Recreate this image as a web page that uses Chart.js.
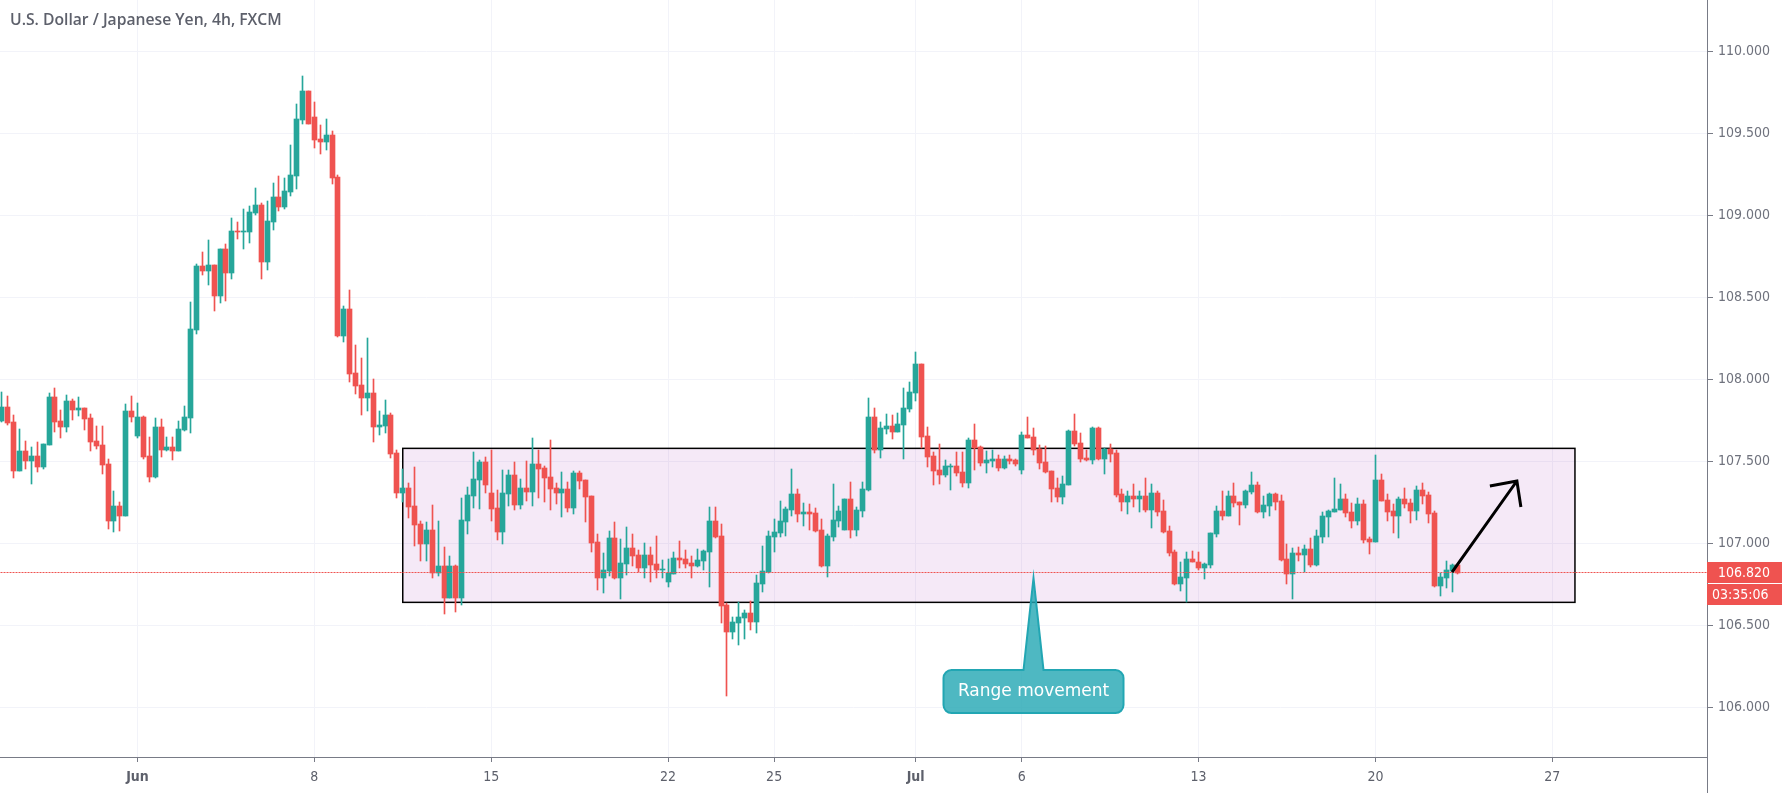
<!DOCTYPE html>
<html>
<head>
<meta charset="utf-8">
<title>USD/JPY 4h</title>
<style>
  html, body { margin: 0; padding: 0; background: #fff; overflow: hidden; }
  canvas { display: block; }
</style>
<script src="https://cdn.jsdelivr.net/npm/chart.js@4"></script>
</head>
<body>
<canvas id="myChart" width="1787" height="793"></canvas>
<script>
const chartTitle = 'U.S. Dollar / Japanese Yen, 4h, FXCM';

// 4h candles
const opens = [
  107.746,107.831,107.740,107.441,107.563,107.502,107.533,107.465,107.600,107.892,
  107.746,107.709,107.868,107.813,107.825,107.764,107.624,107.600,107.484,107.136,
  107.228,107.167,107.807,107.654,107.770,107.533,107.404,107.709,107.569,107.587,
  107.563,107.691,107.764,108.301,108.691,108.661,108.697,108.508,108.795,108.648,
  108.904,108.898,108.898,109.014,109.063,108.715,108.959,109.112,109.051,109.142,
  109.240,109.581,109.758,109.600,109.465,109.447,109.490,109.234,108.264,108.429,
  108.039,107.965,107.886,107.917,107.709,107.715,107.783,107.551,107.307,107.337,
  107.228,107.118,106.996,107.081,106.819,106.862,106.667,106.862,106.667,107.136,
  107.289,107.386,107.496,107.307,107.215,107.069,107.301,107.417,107.234,107.337,
  107.313,107.484,107.459,107.404,107.337,107.307,107.331,107.215,107.429,107.386,
  107.289,107.008,106.789,106.831,107.033,106.789,106.874,106.972,106.929,106.850,
  106.929,106.874,106.837,106.764,106.813,106.911,106.904,106.880,106.862,106.892,
  106.947,107.136,107.045,106.624,106.459,106.514,106.545,106.575,106.520,106.752,
  106.825,107.039,107.063,107.130,107.203,107.301,107.179,107.191,107.185,107.081,
  106.862,107.039,107.136,107.081,107.270,107.081,107.197,107.325,107.770,107.569,
  107.697,107.715,107.679,107.722,107.819,107.917,108.093,107.654,107.533,107.447,
  107.417,107.465,107.472,107.435,107.368,107.630,107.587,107.490,107.502,107.514,
  107.459,107.514,107.508,107.447,107.661,107.648,107.575,107.496,107.441,107.337,
  107.283,107.356,107.685,107.612,107.520,107.508,107.703,107.514,107.575,107.551,
  107.301,107.252,107.289,107.270,107.289,107.203,107.307,107.197,107.075,106.947,
  106.752,106.789,106.904,106.886,106.850,106.868,107.057,107.197,107.167,107.289,
  107.252,107.234,107.313,107.356,107.191,107.228,107.301,107.258,106.904,106.813,
  106.941,106.929,106.965,106.868,107.039,107.161,107.191,107.203,107.270,107.191,
  107.136,107.240,107.026,107.008,107.386,107.264,107.197,107.167,107.270,107.246,
  107.197,107.325,107.295,107.185,106.740,106.789,106.831,106.868
];
const highs = [
  107.923,107.898,107.783,107.697,107.624,107.587,107.618,107.606,107.917,107.947,
  107.813,107.904,107.880,107.892,107.825,107.789,107.715,107.715,107.514,107.319,
  107.252,107.850,107.898,107.856,107.776,107.648,107.764,107.758,107.648,107.648,
  107.746,107.837,108.472,108.703,108.776,108.850,108.697,108.795,108.825,108.984,
  108.959,109.039,109.057,109.167,109.075,109.087,109.197,109.240,109.228,109.429,
  109.679,109.850,109.758,109.691,109.551,109.587,109.514,109.246,108.447,108.545,
  108.209,108.130,108.252,108.002,107.807,107.874,107.795,107.569,107.453,107.368,
  107.465,107.136,107.130,107.234,107.136,106.978,106.923,106.868,107.276,107.343,
  107.557,107.508,107.526,107.569,107.325,107.447,107.447,107.496,107.392,107.502,
  107.642,107.569,107.472,107.630,107.368,107.435,107.374,107.441,107.441,107.386,
  107.289,107.057,106.941,107.075,107.130,107.026,107.100,107.057,106.959,107.002,
  106.978,107.045,106.898,106.904,106.947,107.014,106.959,106.923,106.965,106.959,
  107.222,107.222,107.118,106.636,106.551,106.642,106.593,106.648,106.807,106.984,
  107.075,107.148,107.258,107.222,107.453,107.331,107.246,107.240,107.215,107.148,
  107.057,107.362,107.228,107.270,107.374,107.222,107.374,107.886,107.825,107.740,
  107.789,107.783,107.795,107.947,107.984,108.167,108.093,107.709,107.557,107.606,
  107.508,107.484,107.557,107.557,107.642,107.728,107.593,107.563,107.569,107.539,
  107.533,107.539,107.514,107.679,107.770,107.703,107.600,107.593,107.441,107.398,
  107.411,107.691,107.789,107.673,107.569,107.709,107.709,107.581,107.606,107.569,
  107.331,107.319,107.362,107.319,107.398,107.362,107.319,107.264,107.106,106.959,
  106.886,106.947,106.953,106.947,106.880,107.063,107.228,107.319,107.319,107.368,
  107.252,107.325,107.435,107.374,107.289,107.307,107.307,107.295,106.996,106.972,
  106.978,106.990,107.033,107.081,107.191,107.203,107.398,107.362,107.301,107.246,
  107.276,107.264,107.039,107.539,107.423,107.301,107.240,107.283,107.337,107.270,
  107.350,107.368,107.313,107.197,106.819,106.892,106.874,106.868
];
const lows = [
  107.740,107.722,107.398,107.441,107.453,107.362,107.435,107.453,107.600,107.679,
  107.642,107.679,107.752,107.776,107.691,107.563,107.575,107.423,107.087,107.069,
  107.075,107.167,107.740,107.642,107.514,107.374,107.398,107.526,107.563,107.508,
  107.563,107.685,107.673,108.276,108.636,108.575,108.417,108.465,108.478,108.612,
  108.856,108.795,108.831,109.002,108.612,108.667,108.911,109.026,109.039,109.118,
  109.161,109.557,109.557,109.411,109.374,109.398,109.191,108.258,108.228,107.984,
  107.911,107.783,107.807,107.618,107.661,107.673,107.520,107.276,107.252,107.154,
  106.984,106.892,106.892,106.789,106.801,106.569,106.667,106.581,106.624,107.057,
  107.215,107.209,107.307,107.136,107.020,106.996,107.228,107.203,107.209,107.258,
  107.228,107.276,107.252,107.203,107.240,107.161,107.191,107.179,107.331,107.130,
  106.947,106.715,106.697,106.801,106.783,106.661,106.807,106.862,106.825,106.789,
  106.764,106.789,106.789,106.734,106.813,106.850,106.850,106.789,106.856,106.837,
  106.734,107.033,106.514,106.069,106.417,106.380,106.417,106.472,106.453,106.703,
  106.819,106.947,107.039,107.045,107.167,107.130,107.106,107.081,107.069,106.856,
  106.795,107.014,107.100,107.081,107.033,107.045,107.161,107.319,107.551,107.520,
  107.667,107.636,107.679,107.514,107.801,107.868,107.581,107.465,107.356,107.362,
  107.404,107.325,107.411,107.343,107.337,107.447,107.472,107.429,107.465,107.441,
  107.453,107.484,107.472,107.423,107.642,107.539,107.453,107.429,107.252,107.252,
  107.240,107.356,107.593,107.496,107.502,107.484,107.508,107.423,107.496,107.283,
  107.197,107.179,107.222,107.191,107.191,107.094,107.167,107.063,106.923,106.746,
  106.709,106.642,106.886,106.837,106.783,106.850,107.039,107.142,107.167,107.222,
  107.112,107.215,107.301,107.185,107.154,107.167,107.203,106.892,106.752,106.661,
  106.892,106.825,106.856,106.862,107.002,107.039,107.191,107.203,107.161,107.093,
  107.112,107.002,106.935,107.008,107.258,107.136,107.063,107.033,107.215,107.124,
  107.142,107.240,107.124,106.734,106.679,106.728,106.703,106.813
];
const closes = [
  107.831,107.734,107.441,107.563,107.502,107.533,107.465,107.606,107.892,107.740,
  107.709,107.868,107.813,107.825,107.758,107.618,107.593,107.478,107.136,107.228,
  107.167,107.807,107.770,107.770,107.526,107.404,107.709,107.569,107.587,107.563,
  107.697,107.770,108.307,108.691,108.661,108.697,108.508,108.795,108.648,108.904,
  108.898,108.904,109.020,109.063,108.715,108.965,109.112,109.051,109.148,109.246,
  109.587,109.758,109.557,109.459,109.447,109.490,109.228,108.264,108.429,108.033,
  107.959,107.886,107.917,107.709,107.722,107.783,107.545,107.307,107.337,107.222,
  107.112,106.996,107.081,106.819,106.862,106.667,106.862,106.667,107.142,107.295,
  107.392,107.496,107.356,107.209,107.069,107.307,107.417,107.234,107.337,107.313,
  107.484,107.453,107.398,107.331,107.307,107.331,107.215,107.429,107.380,107.283,
  107.002,106.789,106.837,107.033,106.789,106.880,106.972,106.923,106.850,106.929,
  106.868,106.837,106.843,106.819,106.911,106.898,106.874,106.862,106.898,106.953,
  107.136,107.039,106.618,106.459,106.520,106.551,106.575,106.520,106.758,106.831,
  107.045,107.069,107.136,107.209,107.301,107.179,107.191,107.179,107.075,106.862,
  107.045,107.142,107.197,107.270,107.081,107.203,107.331,107.770,107.569,107.703,
  107.715,107.679,107.728,107.825,107.923,108.093,107.648,107.526,107.441,107.417,
  107.472,107.472,107.429,107.368,107.630,107.581,107.490,107.508,107.514,107.459,
  107.514,107.502,107.484,107.661,107.642,107.569,107.490,107.435,107.331,107.283,
  107.362,107.685,107.606,107.514,107.508,107.703,107.514,107.575,107.545,107.295,
  107.252,107.289,107.270,107.289,107.203,107.307,107.191,107.069,106.941,106.752,
  106.795,106.904,106.886,106.850,106.874,107.063,107.197,107.167,107.289,107.246,
  107.234,107.319,107.356,107.191,107.234,107.301,107.252,106.898,106.813,106.941,
  106.929,106.965,106.868,107.045,107.167,107.197,107.209,107.270,107.185,107.136,
  107.240,107.020,107.008,107.386,107.258,107.191,107.167,107.270,107.240,107.197,
  107.325,107.289,107.179,106.740,106.795,106.837,106.868,106.820
];

const priceTicks = [106, 106.5, 107, 107.5, 108, 108.5, 109, 109.5, 110];
const timeTickIndexes = [23, 53, 83, 113, 131, 155, 173, 203, 233, 263];
const timeTickLabels = ['Jun', '8', '15', '22', '25', 'Jul', '6', '13', '20', '27'];
const monthLabels = ['Jun', 'Jul'];

const lastPrice = 106.82;
const countdown = '03:35:06';

// drawings on the chart, in bar index / price
const rangeBox = { from: 68, to: 266.85, top: 107.579, bottom: 106.64 };
const arrowLine = { fromIndex: 246, fromPrice: 106.825, toIndex: 257, toPrice: 107.38 };
const calloutTip = { index: 175, price: 106.788 };
const calloutText = 'Range movement';

const UP = '#26a69a';
const DOWN = '#ef5350';
const GRID = '#f2f3f9';
const AXIS = '#787b86';
const TEXT = '#5d606b';
const AXIS_FONT = '"DejaVu Sans Condensed", "DejaVu Sans", sans-serif';

const xMin = -0.322;
const xMax = 289.25;

function candleColor(i) {
  return closes[i] >= opens[i] ? UP : DOWN;
}

// the scales keep room for their first and last label, not wanted here
function noScalePadding(axis) {
  axis.paddingTop = 0;
  axis.paddingBottom = 0;
  axis.paddingLeft = 0;
  axis.paddingRight = 0;
}

// snap candles to whole pixels, otherwise they come out blurry
const snapPlugin = {
  id: 'snap',
  afterDatasetsUpdate(chart) {
    chart.getSortedVisibleDatasetMetas().forEach(meta => {
      meta.data.forEach(el => {
        el.x = Math.floor(el.x) + 0.5;
        if (meta.type === 'bar') {
          el.y = Math.round(el.y);
          el.base = Math.round(el.base);
          if (el.y === el.base) el.y -= 1;
        } else {
          el.y = Math.floor(el.y) + 0.5;
        }
      });
    });
  }
};

const drawingsPlugin = {
  id: 'drawings',
  beforeDatasetsDraw(chart) {
    const { ctx, scales: { x, y } } = chart;
    const left = x.getPixelForValue(rangeBox.from);
    const right = x.getPixelForValue(rangeBox.to);
    const top = y.getPixelForValue(rangeBox.top);
    const bottom = y.getPixelForValue(rangeBox.bottom);
    ctx.save();
    ctx.fillStyle = 'rgba(156, 39, 176, 0.1)';
    ctx.fillRect(left, top, right - left, bottom - top);
    ctx.strokeStyle = '#000';
    ctx.lineWidth = 1.5;
    ctx.strokeRect(left, top, right - left, bottom - top);
    ctx.restore();
  },
  afterDatasetsDraw(chart) {
    const { ctx, chartArea, scales: { x, y } } = chart;
    ctx.save();

    // axis line carries on below the time axis
    ctx.strokeStyle = AXIS;
    ctx.lineWidth = 1;
    ctx.beginPath();
    ctx.moveTo(chartArea.right + 0.5, chartArea.bottom);
    ctx.lineTo(chartArea.right + 0.5, chart.height);
    ctx.stroke();

    // arrow
    const ax = x.getPixelForValue(arrowLine.toIndex);
    const ay = y.getPixelForValue(arrowLine.toPrice);
    ctx.strokeStyle = '#000';
    ctx.lineWidth = 3;
    ctx.lineJoin = 'miter';
    ctx.beginPath();
    ctx.moveTo(x.getPixelForValue(arrowLine.fromIndex), y.getPixelForValue(arrowLine.fromPrice));
    ctx.lineTo(ax, ay);
    ctx.moveTo(ax - 27, ay + 5);
    ctx.lineTo(ax, ay);
    ctx.lineTo(ax + 4, ay + 26);
    ctx.stroke();

    // callout
    const tx = x.getPixelForValue(calloutTip.index);
    const ty = y.getPixelForValue(calloutTip.price);
    const bl = tx - 90, br = tx + 90, bt = ty + 92, bb = ty + 135, r = 8;
    ctx.beginPath();
    ctx.moveTo(tx, ty);
    ctx.lineTo(tx + 10, bt);
    ctx.lineTo(br - r, bt);
    ctx.arcTo(br, bt, br, bt + r, r);
    ctx.lineTo(br, bb - r);
    ctx.arcTo(br, bb, br - r, bb, r);
    ctx.lineTo(bl + r, bb);
    ctx.arcTo(bl, bb, bl, bb - r, r);
    ctx.lineTo(bl, bt + r);
    ctx.arcTo(bl, bt, bl + r, bt, r);
    ctx.lineTo(tx - 10, bt);
    ctx.closePath();
    ctx.fillStyle = 'rgba(34, 166, 179, 0.8)';
    ctx.fill();
    ctx.strokeStyle = '#22a6b3';
    ctx.lineWidth = 2;
    ctx.stroke();
    ctx.fillStyle = '#fff';
    ctx.font = '17px "DejaVu Sans", sans-serif';
    ctx.textAlign = 'center';
    ctx.textBaseline = 'middle';
    ctx.fillText(calloutText, tx, (bt + bb) / 2);

    // last price and countdown tags
    const py = Math.floor(y.getPixelForValue(lastPrice));
    const tagLeft = chartArea.right;
    ctx.fillStyle = DOWN;
    ctx.fillRect(tagLeft, py - 10, 75, 21);
    ctx.fillRect(tagLeft, py + 12, 75, 21);
    ctx.fillStyle = '#fff';
    ctx.font = '14px ' + AXIS_FONT;
    ctx.textAlign = 'left';
    ctx.fillText(lastPrice.toFixed(3), tagLeft + 11, py + 1);
    ctx.fillText(countdown, tagLeft + 5, py + 23);

    // title
    ctx.fillStyle = TEXT;
    ctx.font = '600 15.7px "Open Sans", sans-serif';
    ctx.fillText(chartTitle, 10, 21);
    ctx.restore();
  }
};

const ctx = document.getElementById('myChart');
const indexes = opens.map((_, i) => i);

new Chart(ctx, {
  type: 'bar',
  data: {
    datasets: [
      {
        type: 'line',
        data: [{ x: xMin, y: lastPrice }, { x: xMax, y: lastPrice }],
        borderColor: DOWN,
        borderWidth: 1,
        borderDash: [2, 1],
        pointRadius: 0,
        order: 0
      },
      {
        data: indexes.map(i => ({ x: i, y: [opens[i], closes[i]] })),
        backgroundColor: indexes.map(candleColor),
        barThickness: 5,
        grouped: false,
        order: 1
      },
      {
        data: indexes.map(i => ({ x: i, y: [lows[i], highs[i]] })),
        backgroundColor: indexes.map(candleColor),
        barThickness: 1,
        grouped: false,
        order: 2
      }
    ]
  },
  options: {
    responsive: false,
    animation: false,
    layout: { padding: 0 },
    plugins: { legend: { display: false }, tooltip: { enabled: false } },
    scales: {
      x: {
        type: 'linear',
        offset: false,
        min: xMin,
        max: xMax,
        grid: { offset: false, color: GRID, tickColor: AXIS, tickLength: 5 },
        border: { color: AXIS },
        afterBuildTicks: axis => { axis.ticks = timeTickIndexes.map(value => ({ value })); },
        afterFit: axis => { axis.height = 36; noScalePadding(axis); },
        ticks: {
          autoSkip: false,
          maxRotation: 0,
          padding: 7,
          color: TEXT,
          font: c => ({
            family: AXIS_FONT,
            size: 14,
            weight: monthLabels.includes(timeTickLabels[c.index]) ? 'bold' : 'normal'
          }),
          callback: (value, i) => timeTickLabels[i]
        }
      },
      y: {
        position: 'right',
        min: 105.697,
        max: 110.313,
        grid: { color: GRID, tickColor: AXIS, tickLength: 6 },
        border: { color: AXIS },
        afterBuildTicks: axis => { axis.ticks = priceTicks.map(value => ({ value })); },
        afterFit: axis => { axis.width = 80; noScalePadding(axis); },
        ticks: {
          padding: 5,
          color: '#6f727d',
          font: { family: AXIS_FONT, size: 14 },
          callback: value => value.toFixed(3)
        }
      }
    }
  },
  plugins: [snapPlugin, drawingsPlugin]
});
</script>
</body>
</html>
